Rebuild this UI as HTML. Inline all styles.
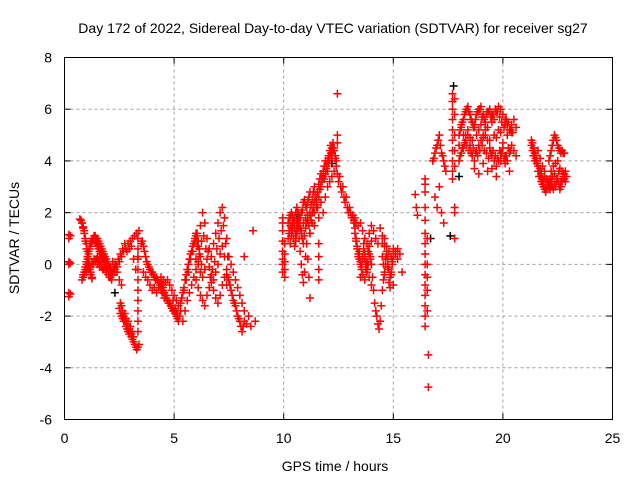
<!DOCTYPE html>
<html><head><meta charset="utf-8"><style>
body{margin:0;background:#fff}
svg{display:block;font-family:"Liberation Sans",sans-serif}
</style></head><body>
<svg id="chart" width="640" height="480" viewBox="0 0 640 480" xmlns="http://www.w3.org/2000/svg">
<rect width="640" height="480" fill="#fff"/>
<text x="333" y="33" font-size="14" text-anchor="middle" fill="#000">Day 172 of 2022, Sidereal Day-to-day VTEC variation (SDTVAR) for receiver sg27</text>
<g id="grid"></g>
<g id="ticks"></g>
<g id="pts"></g>
<rect x="64.5" y="57.5" width="548" height="362" fill="none" stroke="#000" stroke-width="1"/>
<text x="335" y="471" font-size="14" text-anchor="middle">GPS time / hours</text>
<text transform="translate(19,238) rotate(-90)" font-size="14" text-anchor="middle">SDTVAR / TECUs</text>
</svg>
<script>
const xTicks=[0,5,10,15,20,25];
const yTicks=[-6,-4,-2,0,2,4,6,8];
// traces: [start hour, hour step, values]
const traces=[
[0.2,0,[1.15,1.0,0.1,0.0,-1.1,-1.25]],
[0.27,0,[1.1,0.05,-1.15]],
[0.7,0.05,[1.75,1.7,1.6,1.4,1.2,0.9,0.6,0.3,0.0,-0.2,-0.4,-0.55]],
[0.75,0.05,[1.7,1.6,1.45,1.3,1.0,0.8,0.5,0.2,-0.1,-0.3,-0.5]],
[0.8,0.05,[-0.6,-0.5,-0.4,-0.2,0.0,0.2,0.4,0.6,0.8,0.9,1.0,1.1,1.1,1.0,1.0,0.9,0.8,0.7,0.6,0.5,0.4,0.3,0.2,0.1,0.0,-0.1,-0.2,-0.3,-0.3,-0.2,-0.2]],
[0.85,0.05,[-0.4,-0.3,-0.1,0.1,0.3,0.5,0.7,0.8,0.9,1.0,0.95,0.85,0.8,0.7,0.6,0.5,0.4,0.3,0.2,0.1,0.0,-0.1,-0.2,-0.4,-0.5,-0.4]],
[1.0,0.1,[-0.3,-0.2,-0.1,0.0,0.1,0.0,-0.1,-0.1,-0.2,-0.3,-0.4,-0.5,-0.4,-0.3,-0.1,0.1,0.3,0.5,0.6,0.8,0.9,1.0,1.1,1.2,1.3]],
[1.05,0.1,[-0.1,0.0,0.1,0.2,0.2,0.1,0.0,-0.2,-0.1,-0.2,-0.5,-0.6,-0.2,0.0,0.2,0.4,0.6,0.8,0.5,0.6,0.7,0.2,-0.2,0.3]],
[1.5,0.1,[0.3,0.2,0.1,0.3,0.2,0.0,-0.1,0.1,0.0,-0.3,-0.6,-0.8]],
[2.5,0.05,[-1.7,-1.9,-2.0,-2.1,-2.2,-2.2,-2.4,-2.5,-2.6,-2.7,-2.6,-2.8,-2.9,-3.0,-3.1,-3.2,-3.3,-3.2,-3.1]],
[2.55,0.05,[-1.5,-1.6,-1.8,-2.0,-1.9,-2.1,-2.3,-2.2,-2.5,-2.4,-2.7,-2.6,-2.8]],
[3.35,0,[1.0,0.6,0.2,-0.2,-0.6,-1.0,-1.4,-1.8,-2.2,-2.6]],
[3.5,0.05,[0.8,0.9,0.7,0.5,0.3,0.1,0.0,-0.1,-0.2,-0.3,-0.3,-0.4,-0.5,-0.6,-0.5,-0.6,-0.7,-0.8,-0.7,-0.8,-0.9]],
[3.6,0.1,[-0.3,-0.5,-0.6,-0.8,-1.0,-0.9,-1.1,-0.9,-1.0]],
[4.4,0.05,[-0.8,-0.9,-1.0,-1.1,-1.2,-1.3,-1.4,-1.5,-1.5,-1.6,-1.7,-1.8,-1.8,-1.9,-2.0,-2.1,-2.2,-2.0,-1.8]],
[4.4,0.1,[-0.5,-0.6,-0.7,-0.6,-0.8,-1.0,-1.2,-1.4,-1.6]],
[4.45,0.1,[-1.1,-1.3,-1.2,-1.5,-1.6,-1.4,-1.7,-1.9]],
[5.3,0.05,[-1.5,-1.3,-1.1,-0.9,-0.6,-0.4,-0.2,0.0,0.2,0.4,0.5,0.7,0.8,1.0,1.1,0.9,0.7]],
[5.4,0.1,[-2.2,-1.8,-1.4,-1.1,-0.8,-0.5,-0.2,0.1,0.3]],
[5.45,0.1,[-1.0,-0.6,-0.3,0.2,0.5,0.9,1.2,0.6,0.0]],
[6.0,0.1,[1.2,0.9,1.5,2.0,1.6,1.0,0.6,0.3,0.8,1.2,1.6,2.0,2.2,1.8,1.0]],
[6.0,0.1,[0.2,0.0,-0.3,-0.5,-0.2,0.2,-0.1,-0.4,-0.6,-0.3,0.0,0.4,0.7,0.3,-0.2]],
[6.0,0.1,[-0.6,-0.9,-1.2,-1.4,-1.6,-1.2,-0.9,-0.7,-1.0,-1.3,-1.5,-1.2,-0.8,-0.5,-0.8]],
[6.05,0.1,[0.7,0.4,0.9,1.1,0.6,0.5,-0.5,-0.2,0.1,0.6,1.0,1.3,1.5,0.8,0.3]],
[7.4,0.05,[-0.4,-0.5,-0.6,-0.8,-1.0,-1.2,-1.4,-1.5,-1.6,-1.8,-2.0,-2.1,-2.2,-2.4,-2.6,-2.4,-2.2]],
[7.5,0.1,[0.3,0.0,-0.3,-0.6,-0.9,-1.2,-1.5,-1.8]],
[8.2,0.1,[0.3,-2.3,-2.0,-2.4,1.3,-2.2]],
[9.95,0,[1.8,1.6,1.3,0.9,0.5,0.2,0.0,-0.3]],
[10.05,0,[0.8,0.4,0.1,-0.2,-0.5]],
[10.2,0.05,[1.6,1.8,1.9,2.0,1.9,1.7,1.8,2.0,2.2,2.0,1.9,1.8,2.0,2.1,2.4,2.5,2.3,2.2,2.4,2.6,2.8]],
[10.2,0.05,[1.0,1.2,0.8,1.1,1.3,1.0,0.7,0.9,1.2,1.4,1.0,0.5,0.0,-0.4,-0.7,-0.3,0.3,0.8,0.2,-0.5,-1.3]],
[10.25,0.05,[1.3,1.5,1.4,1.6,1.7,1.4,1.2,1.5,1.7,1.6,1.4,1.2,1.0,0.8,1.1,1.4,1.6,1.9,1.5,1.2]],
[10.4,0.1,[1.5,1.4,1.6,1.5,1.3,1.6,1.8,1.7,1.9,2.0,1.5]],
[11.2,0.05,[2.0,2.3,2.5,2.8,3.0,2.7,2.5,2.8,3.1,3.3,3.5,3.3,3.6,3.8,4.0,3.8,4.0,4.2,4.4,4.6,4.5,4.7,4.4,4.2,4.0]],
[11.25,0.05,[1.7,2.0,2.2,2.4,2.6,2.3,2.2,2.6,2.9,3.0,3.2,3.4,3.3,3.5,3.7,3.6,3.9,4.1,4.3,4.2,4.4,4.5,4.1]],
[11.2,0.1,[1.2,1.6,2.0,2.2,1.8,2.4,2.0,2.6,3.0,3.2,3.4,3.6]],
[11.6,0,[0.8,0.3,-0.2,-0.6]],
[12.45,0,[6.6,5.0,4.7]],
[12.4,0.05,[3.8,3.5,3.2,3.4,3.0,2.8,3.0,2.6,2.4,2.6,2.2,2.0,2.2,2.0,1.8,1.9,1.7,1.8,1.6]],
[13.2,0.05,[1.6,1.4,1.0,0.7,0.4,0.2,0.0,-0.2,0.3,0.6,0.2,-0.2,-0.3,0.0,0.4,0.2,0.0]],
[13.25,0.05,[1.2,0.9,0.6,0.3,0.5,0.1,-0.1,0.2,0.8,0.4,0.0,0.1,0.5,0.7,0.3]],
[13.4,0.1,[1.5,1.6,1.3,1.0,0.8,1.2,0.9]],
[13.5,0.1,[-0.5,-0.4,-0.6,-0.2,-0.5,-0.8]],
[14.0,0.05,[0.0,-0.5,-1.0,-1.5,-1.8,-2.0,-2.3,-2.5,-2.2,-1.6,-1.0]],
[14.0,0.1,[1.5,1.3,1.0,0.8,1.4,1.1,0.7]],
[14.5,0.05,[0.3,0.0,-0.3,0.2,0.5,0.2,-0.2,-0.5,-0.3,0.0,0.3]],
[14.5,0.1,[0.8,1.0,0.7,0.5,0.3,-0.8,0.5,0.2]],
[14.55,0.05,[-0.6,-0.4,0.0,0.4,-0.1,-0.7,-0.9,-0.4,0.1,0.6]],
[15.1,0.1,[0.4,0.6,0.4,-0.3]],
[16.0,0.05,[2.7,2.2,1.9]],
[16.45,0,[3.3,3.1,2.8,2.2,1.7,1.2,0.8,0.4,0.0,-0.4,-0.8,-1.2,-1.6,-2.0,-2.4]],
[16.55,0,[1.0,0.0,-0.5,-1.0,-1.8]],
[16.6,0,[-3.5,-4.75]],
[16.8,0.05,[4.0,4.1,4.3,4.5,4.6,4.8,5.0,4.6,4.3,4.2,4.0,3.8,3.6]],
[16.9,0.1,[2.6,2.2,3.0,2.0,1.6]],
[17.7,0,[6.6,6.3,6.0,5.6,5.2,4.8,4.4,4.0,3.6,3.3]],
[17.8,0,[6.4,5.8,5.0,4.4,3.8,2.2,2.0,1.0]],
[18.0,0.1,[5.0,5.3,5.6,5.9,6.1,5.8,5.5,5.4,5.8,6.0,6.1,5.8,5.5,5.9,6.0,5.8,5.6,5.9,6.1,6.0,5.8,5.6,5.4,5.2,5.4,5.6,5.3]],
[18.05,0.1,[5.2,5.5,5.8,6.0,5.9,5.6,5.3,5.6,5.9,6.0,5.7,5.6,5.8,5.9,5.7,5.8,6.0,5.9,5.7,5.5,5.3,5.6,5.5,5.2,5.1]],
[18.0,0.1,[4.0,4.3,4.5,4.8,5.0,4.6,4.2,4.0,4.4,4.6,4.8,5.0,5.2,4.8,4.5,4.2,4.0,3.8,4.0,4.3,4.5,4.2,4.0,4.3,4.6,4.4,4.2]],
[18.05,0.1,[4.2,4.5,4.7,4.6,4.4,4.3,4.5,4.3,4.2,4.4,4.6,4.4,4.3,4.1,4.3,4.4,4.2,4.1,4.4,4.3,4.1,4.2,4.5,4.4]],
[18.0,0.2,[4.6,5.0,5.2,4.8,5.0,5.4,5.0,4.8,5.0,5.2,4.7,5.0,5.1]],
[18.1,0.2,[5.4,5.0,4.9,5.3,5.2,4.9,5.3,5.5,4.9,5.1,5.4,5.2]],
[18.7,0.2,[3.7,3.5,3.9,3.6,3.7,3.4,4.0,3.9,3.6]],
[21.3,0.05,[4.6,4.7,4.5,4.3,4.2,4.0,3.8,3.6,3.4,3.2,3.1,3.0,2.9,2.8,2.9,3.0,3.1,2.9,3.0]],
[21.35,0.05,[4.4,4.2,4.0,4.1,3.9,3.6,3.4,3.7,3.5,3.3,3.2,3.4,3.1,3.3,3.2]],
[21.3,0.1,[4.8,4.5,4.2,4.4,4.1,3.8,3.6,3.3]],
[22.1,0.05,[3.0,3.1,3.2,3.0,2.9,3.1,3.0,3.2,3.3,3.1,2.9,3.0,3.2,3.4,3.3,3.2,3.4]],
[22.1,0.05,[4.0,4.2,4.4,4.6,4.8,5.0,4.9,4.8,4.6,4.5,4.4,4.3,4.4,4.3,4.3]],
[22.2,0.1,[3.6,3.8,3.9,4.0,3.7,3.6,3.5]],
[22.15,0.1,[3.3,3.4,3.5,3.3,3.6,3.2,3.5,3.6]]
];
const blackTimes=[2.3,12.2,17.75,18.0,10.6,16.7,5.1,17.6];
const blackValues=[-1.1,3.9,6.9,3.4,1.8,1.0,-1.9,1.1];
const X0=64.5,X1=612.5,Y0=419.5,Y1=57.5;
function sx(h){return X0+(h-0)/(25-0)*(X1-X0);}
function sy(v){return Y0-(v+6)/(14)*(Y0-Y1);}
const NS="http://www.w3.org/2000/svg";
const grid=document.getElementById('grid'),ticks=document.getElementById('ticks'),pts=document.getElementById('pts');
function mk(tag,attrs,parent){const e=document.createElementNS(NS,tag);for(const k in attrs)e.setAttribute(k,attrs[k]);parent.appendChild(e);return e;}
xTicks.forEach(t=>{const x=sx(t);
 if(t>0&&t<25){const g=mk('line',{x1:x,x2:x,y1:Y1,y2:Y0,stroke:'#a0a0a0','stroke-dasharray':'3,3'},grid);
 
 }
 mk('line',{x1:x,x2:x,y1:Y0,y2:Y0-6,stroke:'#000'},ticks);
 mk('line',{x1:x,x2:x,y1:Y1,y2:Y1+6,stroke:'#000'},ticks);
 const l=mk('text',{x:x,y:443,'font-size':14,'text-anchor':'middle'},ticks);l.textContent=t;
 
 });
yTicks.forEach(t=>{const y=sy(t);
 if(t>-6&&t<8){const g=mk('line',{x1:X0,x2:X1,y1:y,y2:y,stroke:'#a0a0a0','stroke-dasharray':'3,3'},grid);
 
 }
 mk('line',{x1:X0,x2:X0+6,y1:y,y2:y,stroke:'#000'},ticks);
 mk('line',{x1:X1,x2:X1-6,y1:y,y2:y,stroke:'#000'},ticks);
 const l=mk('text',{x:52,y:y+5,'font-size':14,'text-anchor':'end'},ticks);l.textContent=t;
 
 });
function plus(h,v,col){const x=sx(h),y=sy(v),r=4;
 const p=mk('path',{d:`M${x-r} ${y}H${x+r}M${x} ${y-r}V${y+r}`,stroke:col,'stroke-width':1.5,fill:'none'},pts);
 
 }
blackTimes.forEach((h,i)=>plus(h,blackValues[i],'#000'));
traces.forEach(tr=>tr[2].forEach((v,i)=>plus(tr[0]+tr[1]*i,v,'#ff0000')));
</script>
</body></html>
